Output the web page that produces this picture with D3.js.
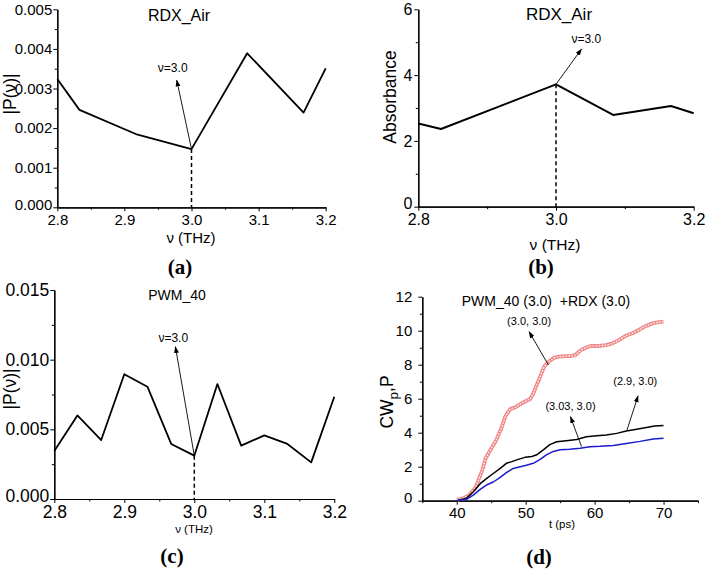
<!DOCTYPE html>
<meta charset="utf-8">
<html>
<head>
  <script src="https://d3js.org/d3.v7.min.js"></script>
  <style>
    body { margin: 0; background: #fff; }
    text { font-family: "Liberation Sans", Arial, sans-serif; fill: #000; }
    .tag { font-family: "Liberation Serif", "Times New Roman", serif; font-weight: bold; }
  </style>
</head>
<body>
<div id="chart"></div>
<script>
// (a) |P(v)| of RDX in air
var aFreq = [2.8, 2.833, 2.917, 3.0, 3.083, 3.167, 3.2];
var aPv = [0.00324, 0.00246, 0.00185, 0.00147, 0.00389, 0.00239, 0.00351];
// (b) absorbance of RDX in air
var bFreq = [2.8, 2.833, 3.0, 3.083, 3.167, 3.2];
var bAbs = [2.53, 2.36, 3.72, 2.79, 3.06, 2.84];
// (c) |P(v)| of PWM_40
var cFreq = [2.8, 2.833, 2.867, 2.9, 2.933, 2.967, 3.0, 3.033, 3.067, 3.1, 3.133, 3.167, 3.2];
var cPv = [0.00344, 0.0060, 0.00423, 0.00895, 0.00806, 0.00395, 0.00311, 0.00825, 0.00383, 0.00457, 0.00395, 0.00263, 0.00734];
// (d) CW_p,P vs t
var dRedT = [40, 40.8, 41.8, 42.75, 43.7, 44.2, 44.9, 45.65, 46.4, 47.1, 47.8, 48.5, 49.3, 50, 50.7, 51.2, 51.9, 52.7, 53.4, 54.1, 54.8, 55.8, 56.5, 57.2, 58, 58.7, 59.4, 60.6, 61.6, 62.6, 63.5, 64.5, 65.5, 66.4, 67.4, 68.4, 69.3, 70];
var dRed = [0.05, 0.12, 0.33, 0.8, 1.8, 2.5, 3.0, 3.5, 4.2, 5.0, 5.4, 5.5, 5.7, 5.85, 6.0, 6.4, 7.1, 7.9, 8.2, 8.4, 8.47, 8.5, 8.5, 8.57, 8.86, 9.0, 9.1, 9.1, 9.15, 9.25, 9.45, 9.7, 9.85, 10.04, 10.27, 10.43, 10.5, 10.53];
var dBlackT = [40, 41.4, 42.4, 43.4, 44.3, 45.3, 46.3, 47.2, 48, 48.9, 49.9, 50.9, 51.6, 52.6, 53.5, 54.5, 55.9, 57.4, 58.8, 60.3, 61.7, 63.2, 64.6, 66.1, 67.5, 68.7, 70];
var dBlack = [0, 0.14, 0.53, 1.0, 1.3, 1.6, 1.9, 2.2, 2.3, 2.43, 2.55, 2.6, 2.7, 3.0, 3.3, 3.47, 3.53, 3.6, 3.76, 3.82, 3.86, 3.96, 4.1, 4.2, 4.3, 4.4, 4.43];
var dBlueT = [40, 41.4, 42.4, 43.4, 44.3, 45.3, 46.3, 47.2, 48.2, 49.2, 50.1, 51.1, 52.1, 53, 54, 55, 56.4, 57.9, 59.3, 60.8, 62.7, 64.6, 66.6, 68.5, 70];
var dBlue = [0, 0.08, 0.33, 0.67, 0.92, 1.1, 1.37, 1.65, 1.9, 2.0, 2.08, 2.2, 2.43, 2.7, 2.9, 3.0, 3.02, 3.08, 3.18, 3.2, 3.25, 3.37, 3.49, 3.63, 3.67];

var W = 706, H = 573;
var svg = d3.select("#chart").append("svg").attr("width", W).attr("height", H);

var defs = svg.append("defs");
defs.append("marker").attr("id", "arr")
  .attr("viewBox", "0 0 10 10").attr("refX", 9).attr("refY", 5)
  .attr("markerWidth", 7).attr("markerHeight", 7).attr("orient", "auto")
  .attr("markerUnits", "userSpaceOnUse")
  .append("path").attr("d", "M0,1.5L10,5L0,8.5Z").attr("fill", "#000");

function panel(o) {
  var x = d3.scaleLinear().domain(o.xDom).range([o.left, o.right]);
  var y = d3.scaleLinear().domain(o.yDom).range([o.bottom, o.top]);
  var g = svg.append("g");

  // minor ticks
  g.append("g").attr("transform", "translate(0," + o.bottom + ")")
    .call(d3.axisBottom(x).tickValues(o.xMinor).tickSize(2.5).tickFormat("").tickSizeOuter(0));
  g.append("g").attr("transform", "translate(" + o.left + ",0)")
    .call(d3.axisLeft(y).tickValues(o.yMinor).tickSize(2.5).tickFormat("").tickSizeOuter(0));
  // major ticks
  var xa = g.append("g").attr("transform", "translate(0," + o.bottom + ")")
    .call(d3.axisBottom(x).tickValues(o.xTicks).tickFormat(d3.format(o.xFmt)).tickSize(4).tickPadding(o.xPad).tickSizeOuter(0));
  var ya = g.append("g").attr("transform", "translate(" + o.left + ",0)")
    .call(d3.axisLeft(y).tickValues(o.yTicks).tickFormat(d3.format(o.yFmt)).tickSize(4).tickPadding(o.yPad).tickSizeOuter(0));
  [xa, ya].forEach(function (a) {
    a.selectAll("text").style("font-size", o.tickFont + "px").style("font-family", "Liberation Sans, Arial, sans-serif");
  });
  // lift the lowest y label a little so it clears the first x label
  ya.selectAll(".tick text").filter(function (d) { return d === o.yDom[0]; }).attr("dy", "0.12em");
  g.selectAll(".domain").attr("stroke", "#000").attr("stroke-width", 1.2);
  g.selectAll(".tick line").attr("stroke", "#000").attr("stroke-width", 1);

  // title, axis labels, panel tag
  g.append("text").attr("x", o.title[1]).attr("y", o.title[2]).attr("text-anchor", "middle")
    .style("font-size", o.title[3] + "px").style("white-space", "pre").text(o.title[0]);
  g.append("text").attr("x", o.xLab[1]).attr("y", o.xLab[2]).attr("text-anchor", "middle")
    .style("font-size", o.xLab[3] + "px").text(o.xLab[0]);
  var yl = g.append("text").attr("class", "ylab").attr("text-anchor", "middle")
    .attr("transform", "translate(" + o.yLab[1] + "," + o.yLab[2] + ") rotate(-90)")
    .style("font-size", o.yLab[3] + "px");
  if (o.yLabSub) {
    yl.append("tspan").text(o.yLab[0]);
    yl.append("tspan").attr("dy", 5).style("font-size", (o.yLab[3] - 4) + "px").text(o.yLabSub);
    yl.append("tspan").attr("dy", -5).text(o.yLabTail);
  } else {
    yl.text(o.yLab[0]);
  }
  g.append("text").attr("class", "tag").attr("x", o.tag[1]).attr("y", o.tag[2]).attr("text-anchor", "middle")
    .style("font-size", "21px").text(o.tag[0]);

  return { g: g, x: x, y: y };
}

function drawLine(p, xs, ys, stroke, width, dash) {
  var pts = xs.map(function (d, i) { return [d, ys[i]]; });
  var line = d3.line().x(function (d) { return p.x(d[0]); }).y(function (d) { return p.y(d[1]); });
  return p.g.append("path").datum(pts).attr("d", line).attr("fill", "none")
    .attr("stroke", stroke).attr("stroke-width", width)
    .attr("stroke-linejoin", "round").attr("stroke-dasharray", dash || null);
}

function arrow(p, from, to, label, labPos, fs) {
  p.g.append("line").attr("x1", p.x(from[0])).attr("y1", p.y(from[1]))
    .attr("x2", p.x(to[0])).attr("y2", p.y(to[1]))
    .attr("stroke", "#000").attr("stroke-width", 0.9).attr("marker-end", "url(#arr)");
  p.g.append("text").attr("x", p.x(labPos[0])).attr("y", p.y(labPos[1])).attr("text-anchor", "middle")
    .style("font-size", fs + "px").text(label);
}

function dropLine(p, xv, yv) {
  p.g.append("line").attr("x1", p.x(xv)).attr("x2", p.x(xv))
    .attr("y1", p.y(yv)).attr("y2", p.y(0))
    .attr("stroke", "#000").attr("stroke-width", 1.5).attr("stroke-dasharray", "4,3");
}

var tenths = [2.8, 2.9, 3.0, 3.1, 3.2];
var halfTenths = [2.85, 2.95, 3.05, 3.15];

// (a)
var pa = panel({
  xDom: [2.8, 3.2], yDom: [0, 0.005], left: 57.3, right: 325.7, top: 9.3, bottom: 207.3,
  xTicks: tenths, xMinor: halfTenths, xFmt: ".1f", xPad: 3,
  yTicks: [0, 0.001, 0.002, 0.003, 0.004, 0.005], yMinor: [0.0005, 0.0015, 0.0025, 0.0035, 0.0045], yFmt: ".3f", yPad: 1,
  tickFont: 15,
  title: ["RDX_Air", 179, 21, 16], xLab: ["\u03bd (THz)", 191, 243, 15], yLab: ["|P(\u03bd)|", 16, 94, 17.5],
  tag: ["(a)", 180, 274]
});
drawLine(pa, aFreq, aPv, "#000", 1.8);
dropLine(pa, 3.0, 0.00147);
arrow(pa, [3.0, 0.00147], [2.978, 0.00321], "\u03bd=3.0", [2.972, 0.00341], 12);

// (b)
var pb = panel({
  xDom: [2.8, 3.2], yDom: [0, 6], left: 418.3, right: 693.7, top: 9.3, bottom: 206.7,
  xTicks: [2.8, 3.0, 3.2], xMinor: [2.9, 3.1], xFmt: ".1f", xPad: 3,
  yTicks: [0, 2, 4, 6], yMinor: [1, 3, 5], yFmt: "d", yPad: 2,
  tickFont: 16,
  title: ["RDX_Air", 559, 20, 17], xLab: ["\u03bd (THz)", 555, 250, 15.5], yLab: ["Absorbance", 396, 97, 17.5],
  tag: ["(b)", 541, 274]
});
drawLine(pb, bFreq, bAbs, "#000", 2);
dropLine(pb, 3.0, 3.72);
arrow(pb, [3.0, 3.72], [3.037, 4.79], "\u03bd=3.0", [3.044, 4.98], 12);

// (c)
var pc = panel({
  xDom: [2.8, 3.2], yDom: [0, 0.015], left: 54.3, right: 334.3, top: 290, bottom: 499,
  xTicks: tenths, xMinor: halfTenths, xFmt: ".1f", xPad: 3,
  yTicks: [0, 0.005, 0.010, 0.015], yMinor: [0.0025, 0.0075, 0.0125], yFmt: ".3f", yPad: 1,
  tickFont: 17.5,
  title: ["PWM_40", 177, 300, 14], xLab: ["\u03bd (THz)", 194, 533, 11.5], yLab: ["|P(\u03bd)|", 16, 389, 17.5],
  tag: ["(c)", 172, 563]
});
drawLine(pc, cFreq, cPv, "#000", 1.8);
dropLine(pc, 3.0, 0.00311);
arrow(pc, [3.0, 0.00311], [2.973, 0.01093], "\u03bd=3.0", [2.970, 0.01129], 12);

// (d)
var pd = panel({
  xDom: [35, 75], yDom: [0, 12], left: 422.3, right: 698, top: 296.7, bottom: 500.7,
  xTicks: [40, 50, 60, 70], xMinor: [35, 45, 55, 65, 75], xFmt: "d", xPad: 3,
  yTicks: [0, 2, 4, 6, 8, 10, 12], yMinor: [1, 3, 5, 7, 9, 11], yFmt: "d", yPad: 6,
  tickFont: 15,
  title: ["PWM_40 (3.0)\u00a0\u00a0+RDX (3.0)", 546, 306, 14], xLab: ["t (ps)", 562, 528, 11.5],
  yLab: ["CW", 393, 402, 17.5], yLabSub: "p", yLabTail: ",P",
  tag: ["(d)", 539, 564]
});
drawLine(pd, dRedT, dRed, "#f08a8a", 3.8);
drawLine(pd, dRedT, dRed, "#fff", 1.2, "1.6,1.4");
drawLine(pd, dBlackT, dBlack, "#000", 1.5);
drawLine(pd, dBlueT, dBlue, "#1a1acc", 1.5);
arrow(pd, [53.3, 7.98], [50.5, 9.94], "(3.0, 3.0)", [50.5, 10.33], 11);
arrow(pd, [64.7, 4.16], [66.3, 6.16], "(2.9, 3.0)", [65.9, 6.81], 11);
arrow(pd, [58.1, 3.18], [56.5, 4.94], "(3.03, 3.0)", [56.5, 5.34], 11);
</script>
</body>
</html>
